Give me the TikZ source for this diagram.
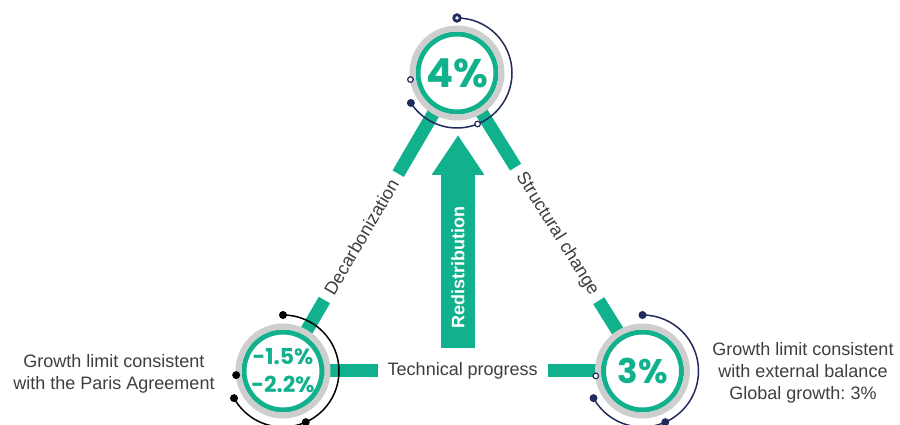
\documentclass[tikz,border=0pt]{standalone}
\usepackage{fontspec}
\setmainfont{Liberation Sans}
\newfontfamily\pctfont{Poppins}
\usetikzlibrary{arrows.meta,backgrounds}
\frenchspacing

\definecolor{growthgreen}{RGB}{16,177,140}
\definecolor{ringgray}{RGB}{206,206,206}
\definecolor{darknavy}{RGB}{33,43,94}
\definecolor{textgray}{RGB}{62,62,62}

\begin{document}
\begin{tikzpicture}[x=1pt,y=1pt,
	hub/.style={circle, minimum size=78pt, inner sep=0pt, fill=white, draw=growthgreen, line width=5pt, text=growthgreen},
	txt/.style={text=textgray, font=\fontsize{18}{22}\selectfont, align=center},
	gap/.style={txt, fill=white, inner sep=8pt, sloped},
	bar/.style={growthgreen, line width=13pt},
	redis/.style={growthgreen, line width=34pt, -{Triangle[width=50pt,length=40pt]}}]

				\useasboundingbox (0,0) rectangle (900,425);

				% Vertices

				\node[hub, font=\pctfont\bfseries\fontsize{40}{40}\selectfont] (top) at (457,352) {4\%};
				\node[hub, font=\pctfont\bfseries\fontsize{22}{28}\selectfont, align=center] (left) at (283,54) {-1.5\%\\-2.2\%};
				\node[hub, font=\pctfont\bfseries\fontsize{34}{34}\selectfont] (right) at (642.5,54) {3\%};

				\foreach \i in {top,left,right}
				\draw[ringgray, line width=6pt] (\i.center) circle (44.5pt);

				% Edges

				\begin{scope}[on background layer]
				\draw[bar] (top.center) -- (left.center) node[gap, pos=0.55] (decarb) {Decarbonization};
				\draw[bar] (top.center) -- (right.center) node[gap, pos=0.54] (struct) {Structural change};
				\draw[bar] (left.center) -- (right.center) node[gap, pos=0.5, inner sep=10pt] (tech) {Technical progress};
				\end{scope}

				\coordinate (rb) at (458,77);
				\coordinate (rt) at (458,290);
				\draw[redis] (rb) -- (rt);
				\node[rotate=90, text=white, font=\bfseries\fontsize{18}{18}\selectfont] (redistext) at (458,157.5) {Redistribution};

				% Arcs

				\draw[darknavy, line width=1.5pt] ([shift={(90:55)}]top.center) arc[start angle=90, end angle=-147, radius=55];
				\draw[black, line width=1.5pt] ([shift={(90:56)}]left.center) arc[start angle=90, end angle=-151, radius=56];
				\draw[darknavy, line width=1.5pt] ([shift={(90:56)}]right.center) arc[start angle=90, end angle=-151, radius=56];

				\draw[fill = darknavy, draw = darknavy] ([shift={(90:55)}]top.center) circle (4.5pt);
				\fill[white] ([shift={(90:55)}]top.center) circle (1.8pt);
				\fill[darknavy] ([shift={(-147:55)}]top.center) circle (4pt);
				\draw[fill = white, draw = darknavy, line width=1.2pt] ([shift={(-68:55)}]top.center) circle (2.8pt);
				\draw[fill = white, draw = darknavy, line width=1.2pt] ([shift={(188:47)}]top.center) circle (2.8pt);

				\foreach \a/\r in {90/56,-66/56,185/47,-151/56}
				\fill[black] ([shift={(\a:\r)}]left.center) circle (4pt);

				\foreach \a in {90,-66,-151}
				\fill[darknavy] ([shift={(\a:56)}]right.center) circle (4pt);
				\draw[fill = white, draw = darknavy, line width=1.2pt] ([shift={(186:47)}]right.center) circle (2.8pt);

				% Captions

				\node[txt] (paris) at (114,51) {Growth limit consistent\\with the Paris Agreement};
				\node[txt] (balance) at (803,52) {Growth limit consistent\\with external balance\\Global growth: 3\%};

\end{tikzpicture}
\end{document}
